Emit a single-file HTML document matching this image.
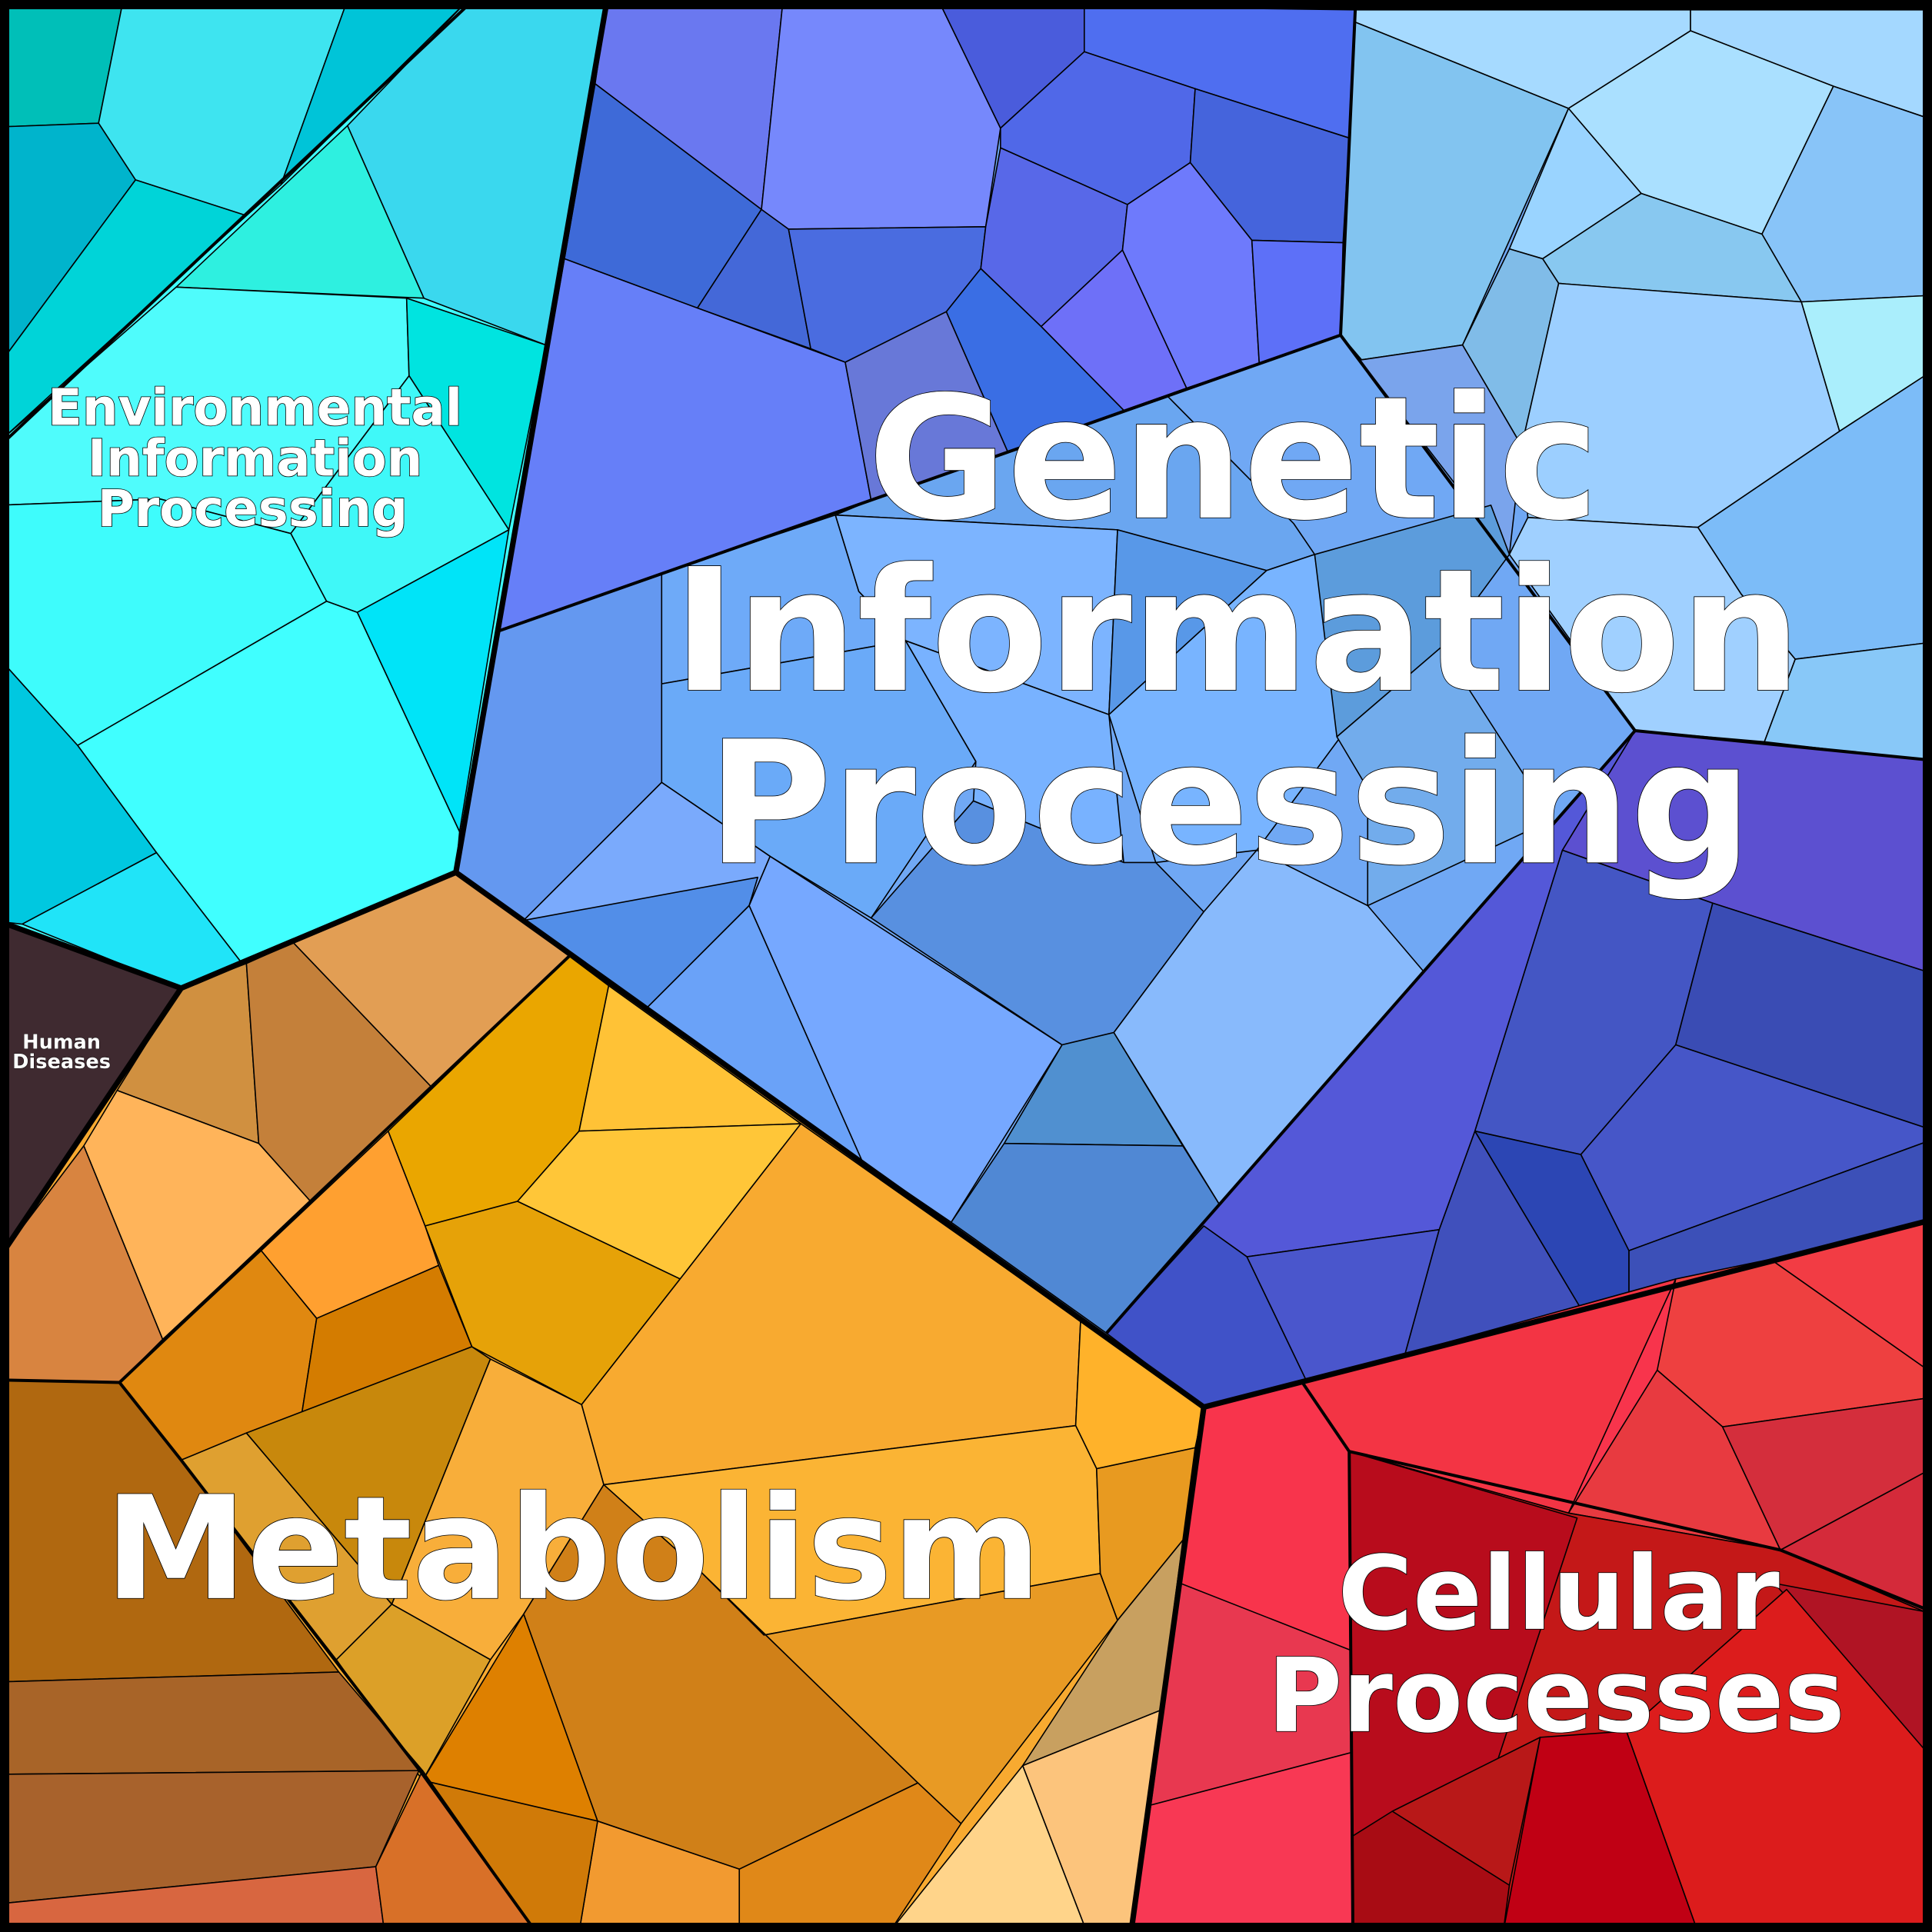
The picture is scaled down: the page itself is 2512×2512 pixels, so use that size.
<!DOCTYPE html>
<html><head><meta charset="utf-8"><style>html,body{margin:0;padding:0;background:#000}svg{display:block}</style></head><body>
<svg width="2512" height="2512" viewBox="0 0 1568 1568" xmlns="http://www.w3.org/2000/svg">
<rect x="0" y="0" width="1568" height="1568" fill="#000"/>
<g stroke="#000" stroke-width="1" stroke-linejoin="round">
<polygon points="0,0 492,0 370,708 147,802 0,748" fill="#40ffff"/>
<polygon points="0,0 100,0 80,100 0,103" fill="#00bfb8"/>
<polygon points="100,0 282,0 228,150 200,175 110,146 80,100" fill="#3ee4f0"/>
<polygon points="282,0 380,0 228,150" fill="#00c4d8"/>
<polygon points="0,103 80,100 110,146 0,295" fill="#00b4cc"/>
<polygon points="110,146 200,175 0,358 0,295" fill="#00d4d8"/>
<polygon points="380,0 492,0 443,280 344,242 282,102" fill="#3ad8ee"/>
<polygon points="282,102 344,242 143,233" fill="#2ef0e0"/>
<polygon points="0,358 143,233 330,242 332,305 236,433 130,405 0,410" fill="#4ffcfc"/>
<polygon points="330,242 443,280 413,430 332,305" fill="#00e4e0"/>
<polygon points="332,305 413,430 290,497 265,488 236,433" fill="#3ff8f8"/>
<polygon points="0,410 130,405 236,433 265,488 63,605 0,535" fill="#3efcfc"/>
<polygon points="265,488 290,497 373,675 370,708 195,780 127,692 63,605" fill="#40ffff"/>
<polygon points="290,497 413,430 373,675" fill="#00e4f8"/>
<polygon points="0,535 63,605 127,692 18,750 0,748" fill="#00c8e0"/>
<polygon points="18,750 127,692 195,780 147,802" fill="#20e4f8"/>
<polygon points="492,0 1568,0 1568,990 977,1142 370,708" fill="#70a8f4"/>
<polygon points="492,5 635,5 618,170 483,68" fill="#6a78f0"/>
<polygon points="635,5 764,5 812,104 800,184 640,186 618,170" fill="#7688fc"/>
<polygon points="764,5 880,5 880,42 812,104" fill="#4a5cdc"/>
<polygon points="880,5 1100,8 1095,112 970,72 880,42" fill="#4f6ef0"/>
<polygon points="483,68 618,170 566,250 458,210" fill="#3e6ad8"/>
<polygon points="618,170 640,186 658,283 566,250" fill="#4468d8"/>
<polygon points="640,186 800,184 796,218 768,253 686,294 658,283" fill="#4a6ce0"/>
<polygon points="812,104 880,42 970,72 966,132 915,166 812,120" fill="#5068e8"/>
<polygon points="970,72 1095,112 1090,197 1016,195 966,132" fill="#4564dc"/>
<polygon points="812,120 915,166 911,203 845,265 796,218 800,184" fill="#5868e8"/>
<polygon points="915,166 966,132 1016,195 1022,295 963,315 911,203" fill="#6e7afc"/>
<polygon points="911,203 963,315 912,333 845,265" fill="#6e70f8"/>
<polygon points="1016,195 1090,197 1088,272 1022,295" fill="#5d70f8"/>
<polygon points="796,218 845,265 912,333 818,367 768,253" fill="#3a6ee4"/>
<polygon points="458,210 566,250 686,294 707,406 405,512" fill="#667ff8"/>
<polygon points="686,294 768,253 818,367 707,406" fill="#6878d8"/>
<polygon points="1100,8 1372,8 1372,25 1273,88 1100,18" fill="#a6daff"/>
<polygon points="1372,8 1568,8 1562,95 1488,70 1372,25" fill="#a4d8ff"/>
<polygon points="1100,18 1273,88 1187,280 1105,292 1088,272" fill="#82c4f0"/>
<polygon points="1273,88 1372,25 1488,70 1430,190 1332,157" fill="#aae0ff"/>
<polygon points="1488,70 1562,95 1562,240 1462,245 1430,190" fill="#88c4f8"/>
<polygon points="1273,88 1332,157 1252,210 1225,202" fill="#9ad4ff"/>
<polygon points="1332,157 1430,190 1462,245 1265,230 1252,210" fill="#88c8f0"/>
<polygon points="1225,202 1252,210 1265,230 1235,362 1187,280" fill="#80bce8"/>
<polygon points="1265,230 1462,245 1493,350 1378,428 1240,420 1235,362" fill="#9ccfff"/>
<polygon points="1462,245 1562,240 1562,305 1493,350" fill="#aaeefc"/>
<polygon points="1493,350 1562,305 1562,522 1457,535 1413,482 1378,428" fill="#7cbcf8"/>
<polygon points="1378,428 1413,482 1457,535 1432,602 1327,593 1225,450 1240,420" fill="#a0d0ff"/>
<polygon points="1457,535 1562,522 1562,617 1432,602" fill="#88c8f8"/>
<polygon points="1105,292 1187,280 1235,362 1225,450 1088,272" fill="#7aa4ec"/>
<polygon points="948,322 1050,425 1067,450 1028,463 907,430 678,418 707,406 818,367" fill="#6aa6f0"/>
<polygon points="405,512 537,465 537,635 425,747 370,708" fill="#6498f0"/>
<polygon points="537,465 678,418 697,480 735,520 537,555" fill="#6eaaf8"/>
<polygon points="678,418 907,430 900,580 735,520 697,480" fill="#7cb4ff"/>
<polygon points="537,555 735,520 792,618 707,745 625,695 537,635" fill="#6aaaf8"/>
<polygon points="735,520 900,580 912,700 790,650 792,618" fill="#78b2ff"/>
<polygon points="907,430 1028,463 900,580" fill="#5898e8"/>
<polygon points="1028,463 1067,450 1088,598 1020,690 938,700 900,580" fill="#78b4ff"/>
<polygon points="1067,450 1210,410 1225,450 1170,525 1085,598" fill="#5c9cdc"/>
<polygon points="1085,598 1170,525 1260,665 1110,735 1110,640" fill="#72acec"/>
<polygon points="537,635 625,695 608,735 525,818 425,747" fill="#7aaafc"/>
<polygon points="425,747 615,712 608,735 525,818" fill="#528ee8"/>
<polygon points="608,735 625,695 862,848 772,992 700,943" fill="#76a8ff"/>
<polygon points="525,818 608,735 700,943" fill="#6aa2f8"/>
<polygon points="707,745 790,650 912,700 938,700 977,740 904,838 862,848" fill="#5890e0"/>
<polygon points="862,848 904,838 960,930 815,928" fill="#5090d0"/>
<polygon points="772,992 815,928 960,930 990,978 898,1082" fill="#5088d4"/>
<polygon points="904,838 977,740 1020,690 1110,735 1155,788 990,978" fill="#88bafc"/>
<polygon points="1327,593 1568,617 1568,790 1390,733 1268,690" fill="#5c50d0"/>
<polygon points="1268,690 1390,733 1360,848 1283,937 1197,918" fill="#4456c4"/>
<polygon points="1390,733 1568,790 1568,917 1360,848" fill="#3a4cb4"/>
<polygon points="1360,848 1568,917 1568,925 1322,1015 1283,937" fill="#4656c8"/>
<polygon points="1322,1015 1568,925 1568,990 1322,1052" fill="#3c50b8"/>
<polygon points="1197,918 1283,937 1322,1015 1322,1052 1283,1062" fill="#2c46b4"/>
<polygon points="1197,918 1283,1062 1140,1100 1168,998" fill="#4050bc"/>
<polygon points="1327,593 1268,690 1197,918 1168,998 1012,1020 977,995 898,1082" fill="#5458d8"/>
<polygon points="977,995 1012,1020 1060,1120 977,1142 898,1082" fill="#4052c8"/>
<polygon points="1012,1020 1168,998 1140,1100 1060,1120" fill="#4a56cc"/>
<polygon points="370,708 977,1142 918,1568 0,1568 0,1020 147,802" fill="#f8aa30"/>
<polygon points="147,802 200,782 210,928 95,885" fill="#d09040"/>
<polygon points="200,782 238,765 350,882 252,975 210,928" fill="#c4803a"/>
<polygon points="238,765 370,708 462,776 350,882" fill="#e29e54"/>
<polygon points="95,885 210,928 252,975 132,1087 68,930" fill="#ffb45a"/>
<polygon points="0,1020 68,930 132,1087 97,1122 0,1120" fill="#d88440"/>
<polygon points="462,776 494,800 470,918 420,975 345,995 315,918" fill="#eaa600"/>
<polygon points="494,800 650,912 470,918" fill="#ffc236"/>
<polygon points="470,918 650,912 552,1038 420,975" fill="#ffc638"/>
<polygon points="345,995 420,975 552,1038 472,1140 383,1093" fill="#e6a208"/>
<polygon points="315,918 345,995 356,1027 257,1070 212,1015" fill="#ffa030"/>
<polygon points="212,1015 257,1070 245,1147 147,1185 97,1122" fill="#e08810"/>
<polygon points="257,1070 356,1027 383,1093 245,1147" fill="#d47c00"/>
<polygon points="650,912 877,1072 873,1157 490,1205 472,1140 552,1038" fill="#f8aa30"/>
<polygon points="877,1072 977,1142 970,1175 890,1192 873,1157" fill="#ffb22a"/>
<polygon points="0,1120 97,1122 147,1185 275,1357 0,1365" fill="#b06810"/>
<polygon points="147,1185 200,1163 318,1302 273,1347" fill="#dfa030"/>
<polygon points="200,1163 383,1093 398,1103 318,1302" fill="#c8880c"/>
<polygon points="398,1103 472,1140 490,1205 425,1310 398,1347 318,1302" fill="#f8ae3a"/>
<polygon points="490,1205 873,1157 890,1192 893,1277 620,1327 568,1275" fill="#fbb434"/>
<polygon points="490,1205 568,1275 745,1447 600,1517 485,1478 425,1310" fill="#d08018"/>
<polygon points="568,1275 620,1327 893,1277 907,1315 780,1480 745,1447" fill="#e89a24"/>
<polygon points="890,1192 970,1175 960,1250 907,1315 893,1277" fill="#e89a20"/>
<polygon points="960,1250 942,1388 830,1433 907,1315" fill="#c8a060"/>
<polygon points="830,1433 942,1388 918,1568 882,1568" fill="#fcc47c"/>
<polygon points="722,1568 830,1433 882,1568" fill="#ffd48a"/>
<polygon points="600,1517 745,1447 780,1480 722,1568 600,1568" fill="#e08818"/>
<polygon points="485,1478 600,1517 600,1568 470,1568" fill="#f29a30"/>
<polygon points="343,1445 425,1310 485,1478" fill="#de8000"/>
<polygon points="343,1445 485,1478 470,1568 435,1568" fill="#d07a08"/>
<polygon points="273,1347 318,1302 398,1347 343,1445" fill="#dca028"/>
<polygon points="0,1365 275,1357 343,1437 0,1440" fill="#a86428"/>
<polygon points="0,1440 340,1437 305,1515 0,1545" fill="#a8622c"/>
<polygon points="0,1545 305,1515 312,1568 0,1568" fill="#d86640"/>
<polygon points="305,1515 343,1437 435,1568 312,1568" fill="#d87028"/>
<polygon points="0,748 147,802 0,1020" fill="#3f2a30"/>
<polygon points="977,1142 1568,990 1568,1568 918,1568" fill="#f8344c"/>
<polygon points="958,1285 1098,1340 1098,1422 934,1465" fill="#e83850"/>
<polygon points="934,1465 1098,1422 1098,1568 918,1568" fill="#f83854"/>
<polygon points="1057,1122 1360,1038 1273,1228 1095,1178" fill="#f33444"/>
<polygon points="1360,1038 1437,1022 1562,1110 1562,1135 1398,1158 1345,1112" fill="#ee4040"/>
<polygon points="1437,1022 1568,990 1562,1110" fill="#f23c44"/>
<polygon points="1345,1112 1398,1158 1445,1258 1273,1228" fill="#e83a40"/>
<polygon points="1398,1158 1562,1135 1562,1195 1445,1258" fill="#d42e3c"/>
<polygon points="1095,1178 1273,1228 1445,1258 1562,1308 1562,1568 1098,1568" fill="#c41818"/>
<polygon points="1445,1258 1562,1195 1562,1308" fill="#d42a3a"/>
<polygon points="1095,1178 1280,1232 1215,1430 1098,1490" fill="#b80c1c"/>
<polygon points="1098,1490 1130,1470 1225,1530 1220,1568 1098,1568" fill="#a80c14"/>
<polygon points="1130,1470 1250,1410 1225,1530" fill="#b81818"/>
<polygon points="1250,1410 1320,1405 1378,1568 1220,1568" fill="#c00014"/>
<polygon points="1440,1285 1562,1308 1562,1420" fill="#b01424"/>
<polygon points="1320,1405 1450,1290 1562,1420 1562,1568 1378,1568" fill="#dc1c1c"/>
</g>
<g fill="none" stroke="#000" stroke-width="2.5" stroke-linejoin="round">
<polyline points="1100,6 1088,272 1327,593 898,1082"/>
<polyline points="1088,272 405,512"/>
<polyline points="1327,593 1568,617"/>
<polyline points="380,4 4,358"/>
<polyline points="1095,1178 1445,1258 1568,1308"/>
<polyline points="1057,1122 1095,1178 1098,1568"/>
<polyline points="0,1120 97,1122 147,1185 343,1440 435,1568"/>
<polyline points="97,1122 462,776"/>
</g>
<g fill="none" stroke="#000" stroke-width="4.5" stroke-linejoin="round">
<polyline points="492,4 370,708 977,1142 1568,990"/>
<polyline points="977,1142 918,1568"/>
<polyline points="0,748 147,802 370,708"/>
<polyline points="147,802 0,1020"/>
</g>
<rect x="3.5" y="3.5" width="1561" height="1561" fill="none" stroke="#000" stroke-width="8"/>
<g font-family="'DejaVu Sans','Liberation Sans',sans-serif" font-weight="bold" fill="#fff" stroke="#000" stroke-width="1" paint-order="stroke" text-anchor="middle">
<text x="1001" y="420" font-size="138">Genetic</text>
<text x="1004" y="560" font-size="138">Information</text>
<text x="998" y="700" font-size="138">Processing</text>
<text x="465" y="1297" font-size="116">Metabolism</text>
<text x="1265" y="1322" font-size="83">Cellular</text>
<text x="1263" y="1405" font-size="83">Processes</text>
<text x="207" y="345" font-size="41">Environmental</text>
<text x="207" y="386" font-size="41">Information</text>
<text x="205" y="427" font-size="41">Processing</text>
<text x="50" y="851" font-size="16" stroke-width="0.5">Human</text>
<text x="50" y="867" font-size="16" stroke-width="0.5">Diseases</text>
</g>
</svg>
</body></html>
